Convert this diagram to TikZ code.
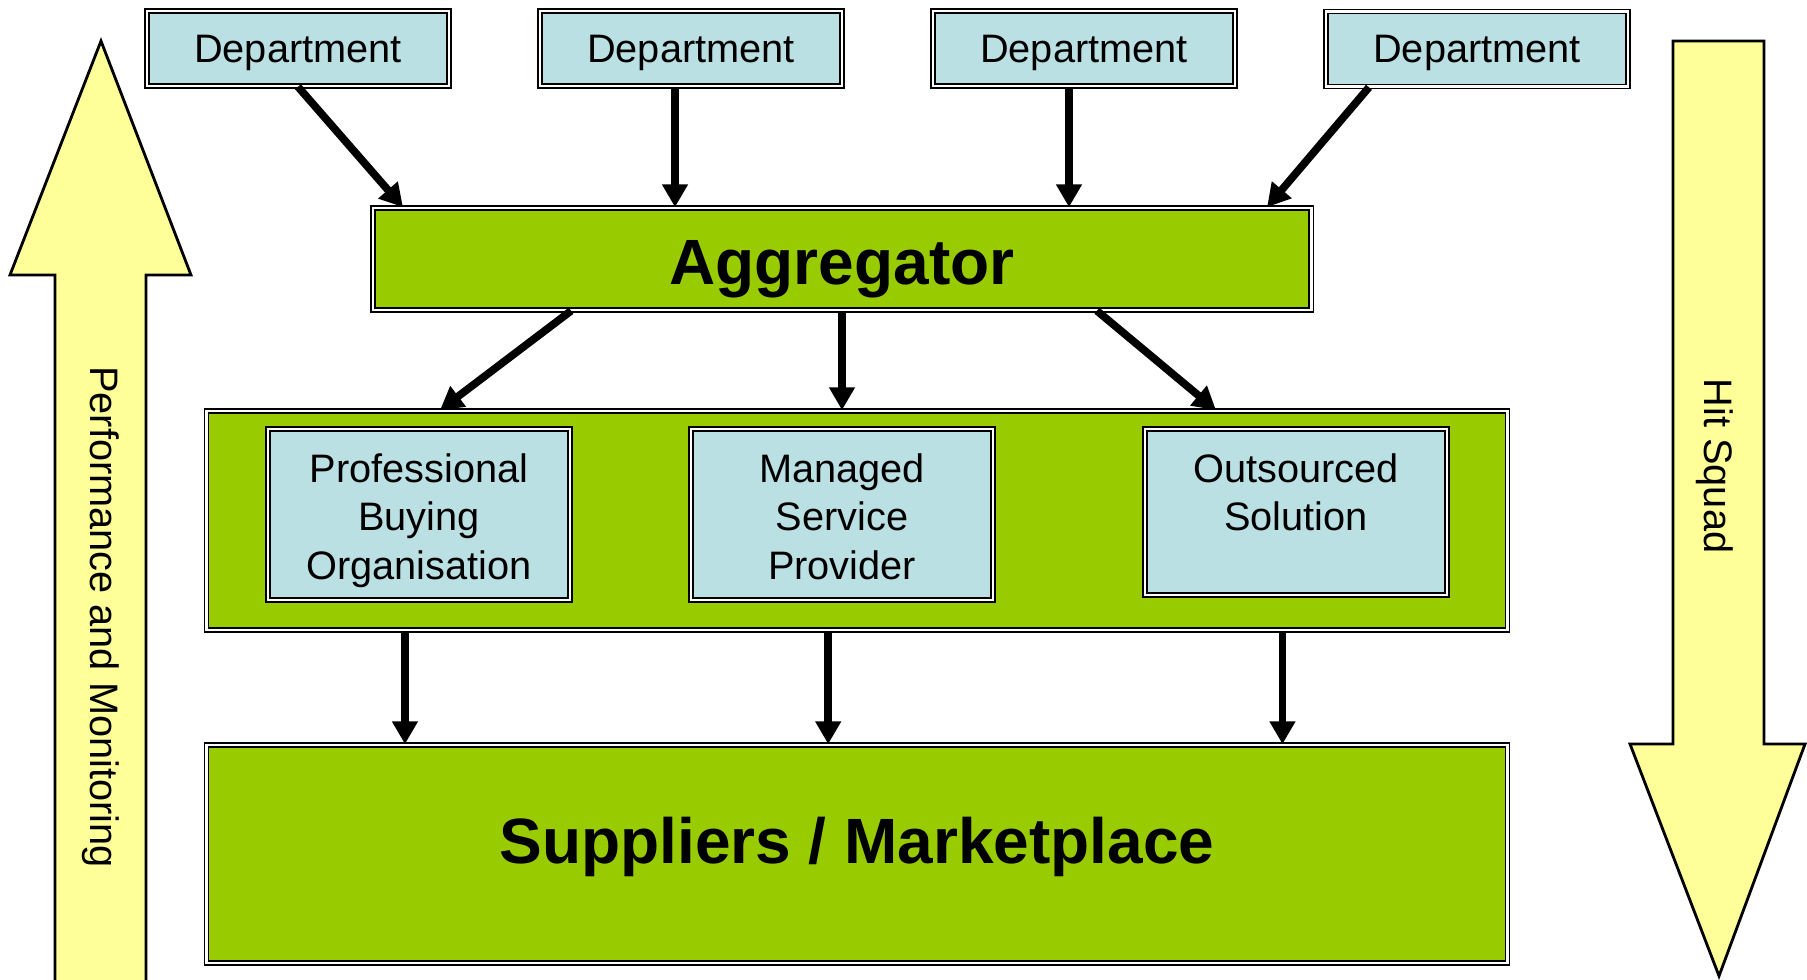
\documentclass[tikz,border=0pt]{standalone}
\usepackage{fontspec}
\setmainfont{Liberation Sans}
\usetikzlibrary{arrows.meta}
\definecolor{boxblue}{HTML}{BBE0E3}
\definecolor{boxgreen}{HTML}{99CC00}
\definecolor{arrowyellow}{HTML}{FFFF99}

\begin{document}
\begin{tikzpicture}[x=0.01cm,y=-0.01cm]
    \tikzstyle{frame}=[draw, line width=0.45pt, double=white, double distance=0.7pt]
    \tikzstyle{dept}=[frame, fill=boxblue, minimum width=3.02cm, minimum height=0.75cm, text depth=0pt, font=\fontsize{11.3}{13.8}\selectfont]
    \tikzstyle{route}=[frame, fill=boxblue, minimum width=3.02cm, minimum height=1.71cm, align=center, text height=36.9pt, text depth=0pt, font=\fontsize{11.3}{13.8}\selectfont]
    \tikzstyle{band}=[frame, fill=boxgreen, minimum width=13cm, font=\fontsize{18.2}{22}\selectfont\bfseries]
    \tikzstyle{bigarrow}=[draw, line width=0.8pt, fill=arrowyellow]
    \tikzstyle{side}=[rotate=-90, font=\fontsize{11.3}{13.8}\selectfont]
    \tikzstyle{link}=[line width=2.2pt, -{Triangle[width=7pt,length=6.5pt]}]

    \useasboundingbox (0,0) rectangle (1807,979);

    \draw[bigarrow] (55,990) -- (55,275) -- (10,275) -- (101,41) -- (191,275) -- (146,275) -- (146,990) -- cycle;
    \draw[bigarrow] (1673,41) -- (1764,41) -- (1764,744) -- (1805,744) -- (1719,976) -- (1630,744) -- (1673,744) -- cycle;
    \node[side] (perf) at (101,617) {Performance and Monitoring};
    \node[side] (hit) at (1715,466) {Hit Squad};

    \node[dept] (d1) at (298,48.5) {Department};
    \node[dept] (d2) at (691,48.5) {Department};
    \node[dept] (d3) at (1084,48.5) {Department};
    \node[dept] (d4) at (1477,49) {Department};

    \node[band, minimum width=9.38cm, minimum height=1.02cm, text height=14.4pt, text depth=0pt] (agg) at (842,259) {Aggregator};
    \node[band, minimum height=2.19cm] (mid) at (857,520.5) {};
    \node[route] (pbo) at (419,514.5) {Professional\\Buying\\Organisation};
    \node[route] (msp) at (842,514.5) {Managed\\Service\\Provider};
    \node[route, minimum height=1.66cm, text height=38.3pt] (os) at (1296,512) {Outsourced\\Solution\\~};
    \node[band, minimum height=2.18cm, text height=13pt, text depth=7.8pt] (sup) at (857,854) {Suppliers / Marketplace};

    \draw[link] (d1.south) -- ([xshift=0.31cm]agg.north west);
    \draw[link] ([xshift=-0.16cm]d2.south) -- ([xshift=-0.16cm]d2.south |- agg.north);
    \draw[link] ([xshift=-0.15cm]d3.south) -- ([xshift=-0.15cm]d3.south |- agg.north);
    \draw[link] ([xshift=-1.08cm]d4.south) -- ([xshift=-0.45cm]agg.north east);

    \draw[link] ([xshift=1.99cm]agg.south west) -- ([xshift=2.34cm]mid.north west);
    \draw[link] (agg.south) -- (agg.south |- mid.north);
    \draw[link] ([xshift=-2.15cm]agg.south east) -- ([xshift=-2.92cm]mid.north east);

    \draw[link] ([xshift=1.99cm]mid.south west) -- ([xshift=1.99cm]mid.south west |- sup.north);
    \draw[link] ([xshift=6.22cm]mid.south west) -- ([xshift=6.22cm]mid.south west |- sup.north);
    \draw[link] ([xshift=10.76cm]mid.south west) -- ([xshift=10.76cm]mid.south west |- sup.north);
\end{tikzpicture}
\end{document}
